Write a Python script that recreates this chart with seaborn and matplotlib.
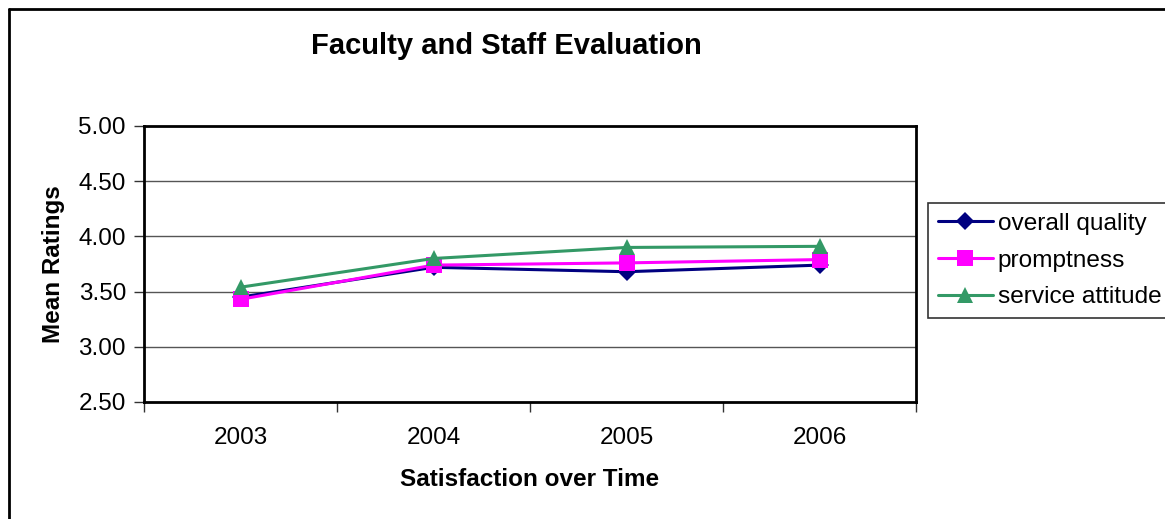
import matplotlib
matplotlib.use("Agg")
import matplotlib.pyplot as plt
import seaborn as sns
import pandas as pd
from matplotlib.ticker import FixedLocator
from matplotlib.lines import Line2D

years = [2003, 2004, 2005, 2006]
overall_quality = [3.45, 3.72, 3.68, 3.74]
promptness = [3.43, 3.74, 3.76, 3.79]
service_attitude = [3.54, 3.80, 3.90, 3.91]
series_names = ["overall quality", "promptness", "service attitude"]
y_ticks = [2.50, 3.00, 3.50, 4.00, 4.50, 5.00]

sns.set_theme(style="white")
plt.rcParams['font.family'] = ['Liberation Sans', 'DejaVu Sans']
plt.rcParams['text.color'] = 'black'
plt.rcParams['axes.labelcolor'] = 'black'
plt.rcParams['xtick.color'] = 'black'
plt.rcParams['ytick.color'] = 'black'

rows = []
for name, vals in zip(series_names, [overall_quality, promptness, service_attitude]):
    for y, v in zip(years, vals):
        rows.append({"Year": y, "Rating": v, "Series": name})
df = pd.DataFrame(rows)

colors = {"overall quality": "#000080", "promptness": "#FF00FF", "service attitude": "#339966"}
markers = {"overall quality": "D", "promptness": "s", "service attitude": "^"}
msizes = {"overall quality": 9, "promptness": 11, "service attitude": 11}

fig = plt.figure(figsize=(11.65, 5.19), dpi=100)
ax = fig.add_axes([144/1165, 117/519, (916-144)/1165, (402-126)/519])

for name in series_names:
    sub = df[df["Series"] == name]
    sns.lineplot(data=sub, x="Year", y="Rating", ax=ax, color=colors[name],
                 marker=markers[name], markersize=msizes[name], markeredgewidth=0,
                 linewidth=2.2, label=name, legend=False, zorder=3)

ax.set_xlim(2002.5, 2006.5)
ax.set_ylim(2.5, 5.0)
ax.set_yticks(y_ticks)
ax.set_yticklabels([f"{t:.2f}" for t in y_ticks], fontsize=17.5)
ax.set_xticks(years)
ax.set_xticklabels([str(y) for y in years], fontsize=17.5)
ax.xaxis.set_minor_locator(FixedLocator([2002.5, 2003.5, 2004.5, 2005.5, 2006.5]))
ax.tick_params(axis='x', which='major', length=0, pad=18)
ax.tick_params(axis='x', which='minor', length=7, width=1, color='#333333', direction='out', bottom=True)
ax.tick_params(axis='y', which='major', length=7, width=1, color='#333333', direction='out', left=True, pad=6)
for y in y_ticks[1:-1]:
    ax.axhline(y, color='#555555', linewidth=1.0, zorder=1)
for s in ax.spines.values():
    s.set_visible(True)
    s.set_color('black')
    s.set_linewidth(2.0)

ax.set_xlabel("Satisfaction over Time", fontsize=17.5, fontweight='bold', labelpad=14)
ax.set_ylabel("Mean Ratings", fontsize=17.5, fontweight='bold', labelpad=10)
fig.text(506/1165, 1-46/519, "Faculty and Staff Evaluation", fontsize=21,
         fontweight='bold', ha='center', va='center')

handles = [Line2D([0], [0], color=colors[n], marker=markers[n], markersize=msizes[n],
                  markeredgewidth=0, linewidth=2.2) for n in series_names]
leg = fig.legend(handles, series_names, loc='upper left',
                 bbox_to_anchor=(928/1165, 1-203/519), fontsize=17.6, frameon=True,
                 fancybox=False, edgecolor='black', handlelength=2.25, handletextpad=0.2,
                 borderpad=0.4, labelspacing=0.6, borderaxespad=0)
leg.get_frame().set_linewidth(1.2)

# outer chart frame
fig.add_artist(Line2D([9/1165, 9/1165], [0, 1-9/519], transform=fig.transFigure, color='black', linewidth=2))
fig.add_artist(Line2D([9/1165, 1], [1-9/519, 1-9/519], transform=fig.transFigure, color='black', linewidth=2))

fig.savefig("out.png", dpi=100)
